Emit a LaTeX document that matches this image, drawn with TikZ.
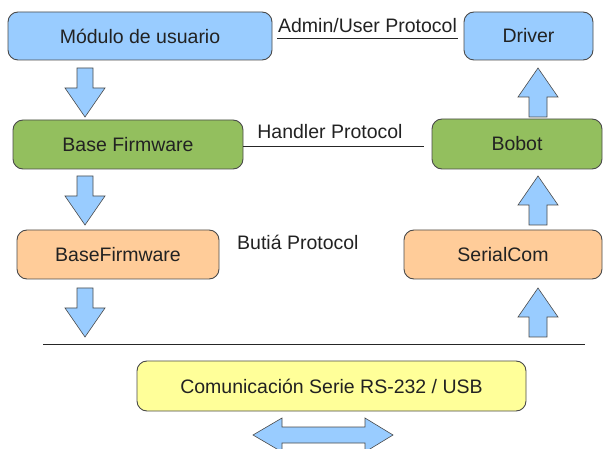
\documentclass[tikz,border=0pt]{standalone}
\usepackage{fontspec}
\setmainfont{Liberation Sans}
\definecolor{bblue}{HTML}{99CCFF}
\definecolor{bgreen}{HTML}{93BF5E}
\definecolor{borange}{HTML}{FFCC99}
\definecolor{byellow}{HTML}{FFFF99}
\definecolor{edge}{HTML}{4A4A4A}
\definecolor{txt}{HTML}{222222}
\begin{document}
\begin{tikzpicture}[x=1pt,y=-1pt,
  box/.style={draw=edge,line width=0.9pt,rounded corners=10pt,inner sep=0pt,text=txt,
    font=\fontsize{19.5}{23}\selectfont},
  lbl/.style={inner sep=0pt,text=txt,font=\fontsize{19.5}{23}\selectfont},
  barrow/.style={fill=bblue,draw=edge,line width=0.6pt,line join=miter},
  rule/.style={draw=black!85,line width=0.9pt},
  pics/downarr/.style={code={
    \path[barrow] (-8,0) -- (8,0) -- (8,20) -- (20,20) -- (0,49) -- (-20,20) -- (-8,20) -- cycle;}},
  pics/uparr/.style={code={
    \path[barrow] (-9,0) -- (9,0) -- (9,-20) -- (20,-20) -- (0,-49) -- (-20,-20) -- (-9,-20) -- cycle;}}
]
\useasboundingbox (0,0) rectangle (603,449);

\node[box,fill=bblue,minimum width=264pt,minimum height=48pt] (mod) at (140,36) {Módulo de usuario};
\node[box,fill=bblue,minimum width=129pt,minimum height=48pt] (drv) at (528.5,36) {Driver};
\node[box,fill=bgreen,minimum width=230pt,minimum height=49pt] (bf) at (128,144.5) {Base Firmware};
\node[box,fill=bgreen,minimum width=170pt,minimum height=50pt] (bob) at (517,144) {Bobot};
\node[box,fill=borange,minimum width=202pt,minimum height=49pt] (bf2) at (118,254.5) {BaseFirmware};
\node[box,fill=borange,minimum width=198pt,minimum height=49pt] (ser) at (503,254.5) {SerialCom};
\node[box,fill=byellow,minimum width=389pt,minimum height=50pt] (com) at (331.5,386) {Comunicación Serie RS-232 / USB};

% protocol labels
\node[lbl,anchor=base] (adm) at (367.5,33) {Admin/User Protocol};
\coordinate (admL) at (277,38);
\coordinate (admR) at (458,38);
\draw[rule] (admL) -- (admR);

\node[lbl,anchor=base] (hnd) at (330,139) {Handler Protocol};
\coordinate (hndR) at (424,146);
\draw[rule] (bf.east |- hndR) -- (hndR);

\node[lbl,anchor=base west] (but) at (237,250) {Butiá Protocol};

% separator
\coordinate (sepL) at (43,344);
\coordinate (sepR) at (585,344);
\draw[rule] (sepL) -- (sepR);

% block arrows
\pic at (85,68) {downarr};
\pic at (85,176) {downarr};
\pic at (85,288) {downarr};
\pic at (538,117) {uparr};
\pic at (538,225) {uparr};
\pic at (538,337) {uparr};

\path[barrow] (253,435) -- (282,418) -- (282,427) -- (365,427) -- (365,418) -- (393,435)
  -- (365,452) -- (365,443) -- (282,443) -- (282,452) -- cycle;
\end{tikzpicture}
\end{document}
